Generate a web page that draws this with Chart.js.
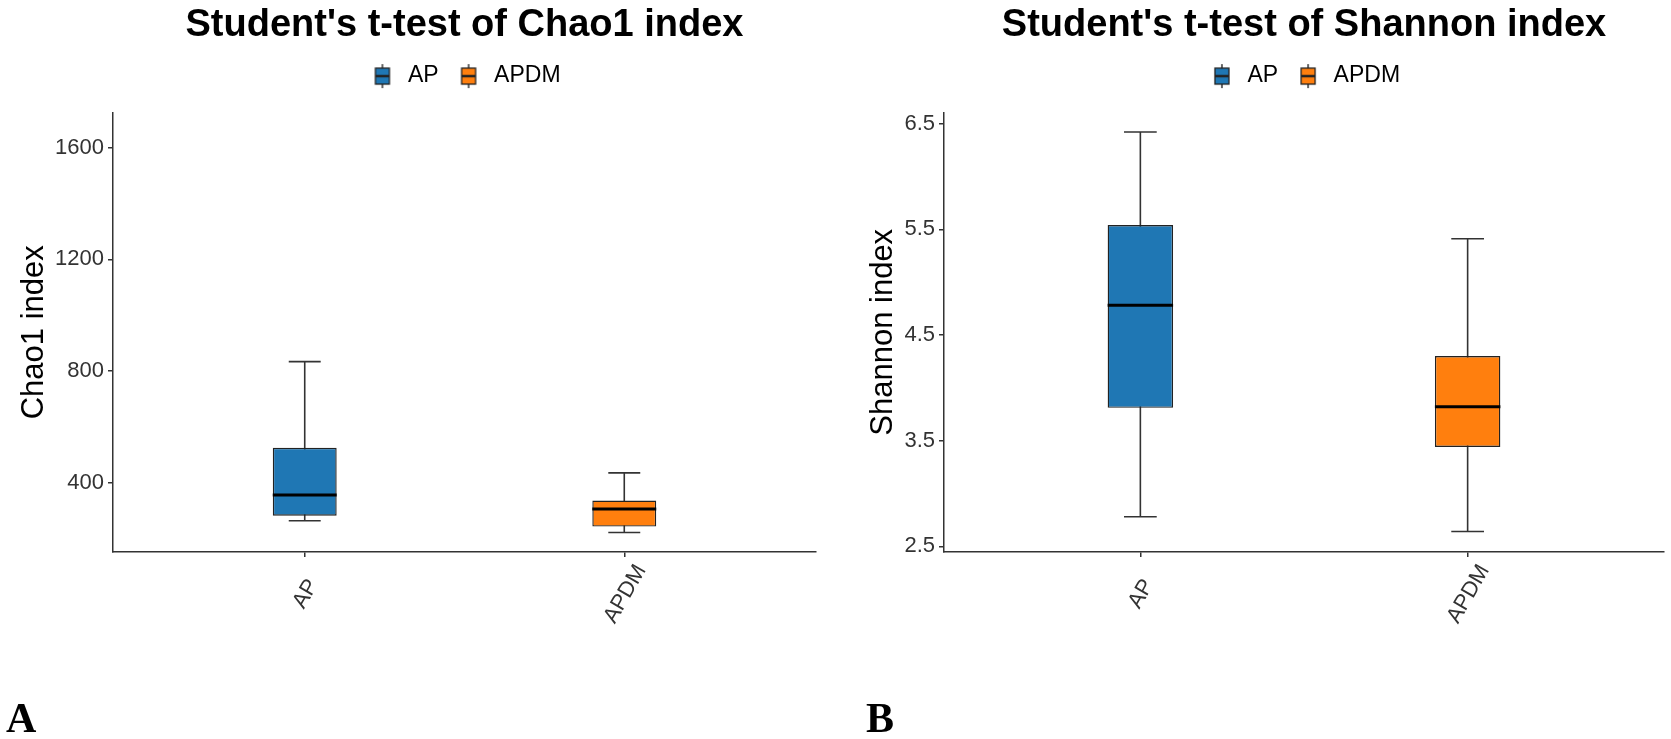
<!DOCTYPE html>
<html>
<head>
<meta charset="utf-8">
<script src="https://cdn.jsdelivr.net/npm/chart.js@4.4.1/dist/chart.umd.min.js"></script>
<style>
html, body { margin: 0; padding: 0; background: #fff; width: 1671px; height: 739px; overflow: hidden; }
canvas { position: absolute; top: 0; }
#chao { left: 0; }
#shannon { left: 835px; }
.tag { position: absolute; font-family: "Liberation Serif", serif; font-weight: bold; font-size: 42px; line-height: 1; color: #000; }
</style>
</head>
<body>
<canvas id="chao" width="835" height="739"></canvas>
<canvas id="shannon" width="836" height="739"></canvas>
<div class="tag" style="left:6px;top:697px">A</div>
<div class="tag" style="left:866px;top:697px">B</div>
<script>
const groups = ['AP', 'APDM'];
const groupColors = ['#1F77B4', '#FF7F0E'];

// Chao1 boxplot stats (whisker low, Q1, median, Q3, whisker high)
const chaoLow = [265, 223];
const chaoQ1 = [283, 244];
const chaoMedian = [357, 307];
const chaoQ3 = [526, 337];
const chaoHigh = [834, 436];
const chaoTicks = [400, 800, 1200, 1600];

// Shannon boxplot stats
const shannonLow = [2.78, 2.64];
const shannonQ1 = [3.81, 3.44];
const shannonMedian = [4.78, 3.82];
const shannonQ3 = [5.54, 4.30];
const shannonHigh = [6.42, 5.41];
const shannonTicks = [2.5, 3.5, 4.5, 5.5, 6.5];

const FONT = '"Liberation Sans", Arial, Helvetica, sans-serif';

// little boxplot glyph for the legend, like ggplot's key
function legendKey(color) {
    const c = document.createElement('canvas');
    c.width = 18; c.height = 26;
    const g = c.getContext('2d');
    g.strokeStyle = '#333';
    g.lineWidth = 1.5;
    g.beginPath(); g.moveTo(9, 1); g.lineTo(9, 25); g.stroke();
    g.fillStyle = color;
    g.fillRect(2, 5, 14, 16);
    g.strokeStyle = '#222';
    g.lineWidth = 1.3;
    g.strokeRect(2, 5, 14, 16);
    g.lineWidth = 2.5;
    g.beginPath(); g.moveTo(2, 13); g.lineTo(16, 13); g.stroke();
    return c;
}
const legendKeys = groupColors.map(legendKey);

// whiskers under the boxes, medians on top
const boxWhiskers = {
    id: 'boxWhiskers',
    beforeDatasetsDraw(chart, args, opts) {
        const ctx = chart.ctx, x = chart.scales.x, y = chart.scales.y;
        ctx.save();
        ctx.strokeStyle = '#333';
        ctx.lineWidth = 1.6;
        groups.forEach((g, i) => {
            const cx = x.getPixelForValue(i + 1);
            const half = x.getPixelForValue(i + 1 + opts.capWidth / 2) - cx;
            const yl = y.getPixelForValue(opts.low[i]);
            const yh = y.getPixelForValue(opts.high[i]);
            ctx.beginPath();
            ctx.moveTo(cx, yl); ctx.lineTo(cx, yh);
            ctx.moveTo(cx - half, yl); ctx.lineTo(cx + half, yl);
            ctx.moveTo(cx - half, yh); ctx.lineTo(cx + half, yh);
            ctx.stroke();
        });
        ctx.restore();
    },
    afterDatasetsDraw(chart, args, opts) {
        const ctx = chart.ctx, y = chart.scales.y;
        ctx.save();
        ctx.strokeStyle = '#000';
        ctx.lineWidth = 3;
        groups.forEach((g, i) => {
            const bar = chart.getDatasetMeta(i).data[0];
            const {x, width} = bar.getProps(['x', 'width'], true);
            const ym = y.getPixelForValue(opts.median[i]);
            ctx.beginPath();
            ctx.moveTo(x - width / 2, ym); ctx.lineTo(x + width / 2, ym);
            ctx.stroke();
        });
        ctx.restore();
    }
};

// extra room between legend and panel
const legendGap = {
    id: 'legendGap',
    afterInit(chart, args, opts) {
        const legend = chart.legend;
        const fit = legend.fit;
        legend.fit = function () {
            fit.call(this);
            this.height += opts.extra;
        };
    }
};

// ggplot puts the rotated x labels centred under the tick (hjust = vjust = 0.5)
const centerTickLabels = {
    id: 'centerTickLabels',
    beforeDraw(chart, args, opts) {
        const sx = chart.scales.x;
        sx.getLabelItems().forEach((item, i) => {
            item.textOffset = 0;
            item.options.textAlign = 'center';
            item.options.textBaseline = 'middle';
            item.options.translation = [sx.getPixelForTick(i) + opts.dx, sx.top + opts.dy];
        });
    }
};

function makeBoxChart(id, cfg) {
    const datasets = groups.map((g, i) => ({
        label: g,
        data: [{ x: i + 1, y: [cfg.q1[i], cfg.q3[i]] }],
        backgroundColor: groupColors[i],
        borderColor: '#222',
        borderWidth: 1.4,
        borderSkipped: false,
        grouped: false,
        barPercentage: 0.2,
        categoryPercentage: 1
    }));

    return new Chart(document.getElementById(id), {
        type: 'bar',
        data: { datasets: datasets },
        plugins: [boxWhiskers, legendGap, centerTickLabels],
        options: {
            responsive: false,
            animation: false,
            layout: { padding: { right: cfg.padRight } },
            scales: {
                x: {
                    type: 'linear',
                    min: 0.4,
                    max: 2.6,
                    offset: false,
                    afterBuildTicks: s => { s.ticks = groups.map((g, i) => ({ value: i + 1 })); },
                    afterFit: s => { s.height = 187; },
                    ticks: {
                        callback: (v, i) => groups[i],
                        autoSkip: false,
                        minRotation: 60,
                        maxRotation: 60,
                        font: { family: FONT, size: 22 },
                        color: '#333'
                    },
                    grid: { offset: false, drawOnChartArea: false, tickLength: 5, color: '#333', lineWidth: 1.5 },
                    border: { color: '#333', width: 1.5 }
                },
                y: {
                    min: cfg.yMin,
                    max: cfg.yMax,
                    afterBuildTicks: s => { s.ticks = cfg.ticks.map(v => ({ value: v })); },
                    afterFit: s => { s.width = cfg.axisWidth; },
                    ticks: {
                        callback: v => String(v),
                        font: { family: FONT, size: 22 },
                        color: '#333',
                        padding: 4
                    },
                    grid: { drawOnChartArea: false, tickLength: 5, color: '#333', lineWidth: 1.5 },
                    border: { color: '#333', width: 1.5 },
                    title: {
                        display: true,
                        text: cfg.yTitle,
                        font: { family: FONT, size: 31 },
                        color: '#000',
                        padding: { top: cfg.yTitlePad, bottom: 0 }
                    }
                }
            },
            plugins: {
                title: {
                    display: true,
                    text: cfg.title,
                    fullSize: false,
                    font: { family: FONT, size: 38, weight: 'bold' },
                    color: '#000',
                    padding: { top: 3, bottom: 0 }
                },
                legend: {
                    fullSize: false,
                    labels: {
                        usePointStyle: true,
                        pointStyleWidth: 28,
                        padding: 16,
                        color: '#1a1a1a',
                        font: { family: FONT, size: 23 },
                        generateLabels: chart => chart.data.datasets.map((ds, i) => ({
                            text: ds.label,
                            fillStyle: ds.backgroundColor,
                            strokeStyle: '#222',
                            lineWidth: 0,
                            pointStyle: legendKeys[i],
                            hidden: false,
                            datasetIndex: i
                        }))
                    }
                },
                tooltip: { enabled: false },
                boxWhiskers: { low: cfg.low, median: cfg.median, high: cfg.high, capWidth: 0.1 },
                legendGap: { extra: 15 },
                centerTickLabels: { dx: 1, dy: 42 }
            }
        }
    });
}

makeBoxChart('chao', {
    title: "Student's t-test of Chao1 index",
    yTitle: 'Chao1 index',
    low: chaoLow, q1: chaoQ1, median: chaoMedian, q3: chaoQ3, high: chaoHigh,
    ticks: chaoTicks,
    yMin: 153, yMax: 1725,
    axisWidth: 113, yTitlePad: 16, padRight: 19
});

makeBoxChart('shannon', {
    title: "Student's t-test of Shannon index",
    yTitle: 'Shannon index',
    low: shannonLow, q1: shannonQ1, median: shannonMedian, q3: shannonQ3, high: shannonHigh,
    ticks: shannonTicks,
    yMin: 2.446, yMax: 6.604,
    axisWidth: 109, yTitlePad: 30, padRight: 7
});
</script>
</body>
</html>
